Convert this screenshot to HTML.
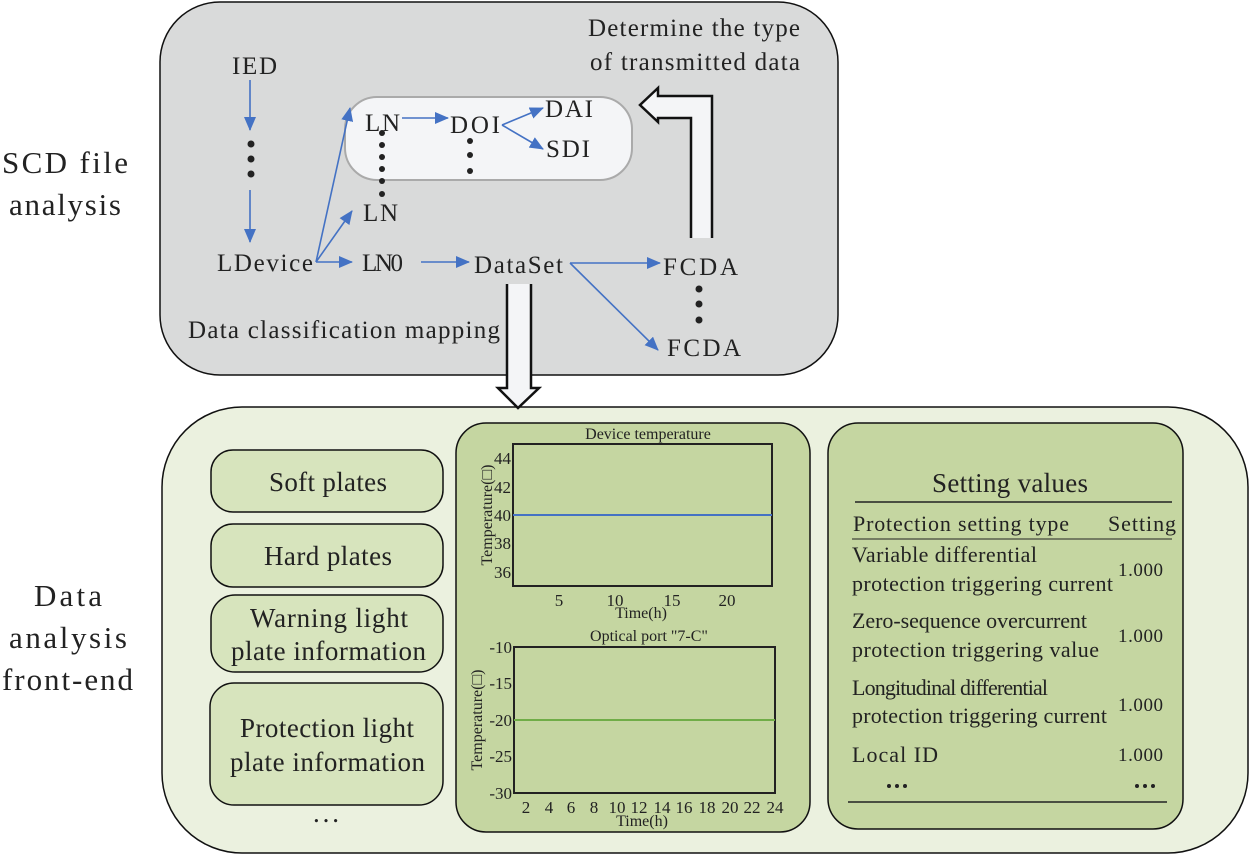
<!DOCTYPE html>
<html><head><meta charset="utf-8"><style>html,body{margin:0;padding:0;background:#fff}svg{display:block}text{font-family:"Liberation Serif","Times New Roman",serif;fill:#222}</style></head><body>
<svg width="1251" height="855" viewBox="0 0 1251 855" xmlns="http://www.w3.org/2000/svg">
<defs><marker id="b" markerWidth="14" markerHeight="12" refX="13" refY="6" orient="auto" markerUnits="userSpaceOnUse"><path d="M0,0 L14,6 L0,12 Z" fill="#4472c4"/></marker></defs>
<!-- left labels -->
<g font-size="31" lengthAdjust="spacingAndGlyphs">
<text x="2" y="173" textLength="126">SCD file</text><text x="9" y="215" textLength="112">analysis</text>
<text x="34" y="606" textLength="68">Data</text><text x="9" y="648" textLength="118">analysis</text><text x="2" y="690" textLength="131">front-end</text></g>
<!-- top box -->
<rect x="160" y="2" width="678" height="373" rx="60" fill="#d9dada" stroke="#111" stroke-width="1.5"/>
<rect x="345" y="97" width="287" height="83" rx="32" fill="#f4f5f7" stroke="#aaa" stroke-width="2"/>
<g font-size="25" lengthAdjust="spacingAndGlyphs">
<text x="588" y="36" textLength="212">Determine the type</text><text x="590" y="70" textLength="210">of transmitted data</text>
<text x="232" y="74" textLength="45">IED</text><text x="365" y="131" textLength="35">LN</text><text x="450" y="133" textLength="50">DOI</text>
<text x="545" y="117" textLength="48">DAI</text><text x="546" y="157" textLength="44">SDI</text><text x="363" y="221" textLength="35">LN</text>
<text x="217" y="271" textLength="96">LDevice</text><text x="362" y="271" textLength="41">LN0</text><text x="474" y="273" textLength="89">DataSet</text>
<text x="663" y="275" textLength="75">FCDA</text><text x="667" y="356" textLength="74">FCDA</text>
<text x="188" y="338" textLength="312">Data classification mapping</text></g>
<g stroke="#4472c4" stroke-width="1.6" fill="none">
<line x1="250" y1="80" x2="250" y2="130" marker-end="url(#b)"/>
<line x1="250" y1="190" x2="250" y2="242" marker-end="url(#b)"/>
<line x1="316" y1="262" x2="350" y2="108" marker-end="url(#b)"/>
<line x1="316" y1="262" x2="352" y2="211" marker-end="url(#b)"/>
<line x1="316" y1="262" x2="352" y2="262" marker-end="url(#b)"/>
<line x1="421" y1="262" x2="469" y2="262" marker-end="url(#b)"/>
<line x1="402" y1="118" x2="448" y2="118" marker-end="url(#b)"/>
<line x1="502" y1="125" x2="543" y2="108" marker-end="url(#b)"/>
<line x1="502" y1="125" x2="543" y2="149" marker-end="url(#b)"/>
<line x1="570" y1="263" x2="660" y2="263" marker-end="url(#b)"/>
<line x1="570" y1="263" x2="658" y2="350" marker-end="url(#b)"/>
</g>
<g fill="#222">
<circle cx="251" cy="144" r="3.5"/><circle cx="251" cy="159" r="3.5"/><circle cx="251" cy="174" r="3.5"/>
<circle cx="382" cy="133" r="3"/><circle cx="382" cy="145" r="3"/><circle cx="382" cy="157" r="3"/><circle cx="382" cy="169" r="3"/><circle cx="382" cy="181" r="3"/><circle cx="382" cy="194" r="3"/>
<circle cx="470" cy="141" r="3"/><circle cx="470" cy="155" r="3"/><circle cx="470" cy="171" r="3"/>
<circle cx="699" cy="289" r="3.5"/><circle cx="699" cy="304" r="3.5"/><circle cx="699" cy="320" r="3.5"/>
</g>
<path d="M691,238 L691,118 L658,118 L658,122 L640,105 L658,88 L658,96 L712,96 L712,238" fill="#f4f5f7" stroke="#111" stroke-width="2.5"/>
<!-- bottom box -->
<rect x="162" y="407" width="1086" height="446" rx="80" fill="#ebf1df" stroke="#111" stroke-width="1.5"/>
<path d="M507,284 L507,388 L498,388 L518,408 L539,388 L531,388 L531,284" fill="#f4f5f7" stroke="#111" stroke-width="2.5"/>
<g fill="#d7e4bd" stroke="#111" stroke-width="1.5">
<rect x="211" y="450" width="232" height="62" rx="22"/>
<rect x="211" y="524" width="232" height="63" rx="22"/>
<rect x="211" y="595" width="232" height="77" rx="24"/>
<rect x="210" y="683" width="233" height="122" rx="24"/>
<rect x="456" y="423" width="354" height="409" rx="30" fill="#c5d6a1"/>
<rect x="828" y="423" width="355" height="406" rx="30" fill="#c5d6a1"/>
</g>
<g font-size="27" lengthAdjust="spacingAndGlyphs">
<text x="269" y="491" textLength="118">Soft plates</text><text x="264" y="565" textLength="128">Hard plates</text>
<text x="250" y="627" textLength="158">Warning light</text><text x="231" y="660" textLength="195">plate information</text>
<text x="240" y="737" textLength="174">Protection light</text><text x="230" y="771" textLength="195">plate information</text>
<text x="313" y="822" textLength="26">...</text></g>
<!-- charts -->
<g font-size="16" text-anchor="middle">
<text x="648" y="439">Device temperature</text>
<text x="641" y="618">Time(h)</text>
<text x="649" y="641">Optical port "7-C"</text>
<text x="642" y="826">Time(h)</text>
<text transform="translate(492,515) rotate(-90)">Temperature(□)</text>
<text transform="translate(482,720) rotate(-90)">Temperature(□)</text>
</g>
<rect x="513" y="444" width="259" height="142" fill="none" stroke="#222" stroke-width="2"/>
<line x1="513" y1="515" x2="772" y2="515" stroke="#4472c4" stroke-width="2"/>
<g font-size="17" text-anchor="end"><text x="511" y="464">44</text><text x="511" y="493">42</text><text x="511" y="521">40</text><text x="511" y="549">38</text><text x="511" y="578">36</text></g>
<g font-size="17" text-anchor="middle"><text x="559" y="606">5</text><text x="615" y="606">10</text><text x="672" y="606">15</text><text x="727" y="606">20</text></g>
<rect x="514" y="647" width="261" height="146" fill="none" stroke="#222" stroke-width="2"/>
<line x1="514" y1="720" x2="775" y2="720" stroke="#70ad47" stroke-width="2"/>
<g font-size="17" text-anchor="end"><text x="512" y="653">-10</text><text x="512" y="689">-15</text><text x="512" y="726">-20</text><text x="512" y="762">-25</text><text x="512" y="799">-30</text></g>
<g font-size="17" text-anchor="middle"><text x="526" y="813">2</text><text x="549" y="813">4</text><text x="571" y="813">6</text><text x="594" y="813">8</text><text x="617" y="813">10</text><text x="639" y="813">12</text><text x="662" y="813">14</text><text x="684" y="813">16</text><text x="707" y="813">18</text><text x="730" y="813">20</text><text x="752" y="813">22</text><text x="775" y="813">24</text></g>
<!-- table -->
<g lengthAdjust="spacingAndGlyphs">
<text x="932" y="492" font-size="27" textLength="156">Setting values</text>
<text x="853" y="531" font-size="22" textLength="216">Protection setting type</text>
<text x="1108" y="531" font-size="22" textLength="68">Setting</text>
<g font-size="22">
<text x="852" y="562" textLength="185">Variable differential</text><text x="852" y="591" textLength="261">protection triggering current</text>
<text x="852" y="628" textLength="235">Zero-sequence overcurrent</text><text x="852" y="657" textLength="247">protection triggering value</text>
<text x="852" y="695" textLength="196">Longitudinal differential</text><text x="852" y="723" textLength="255">protection triggering current</text>
<text x="852" y="762" textLength="86">Local ID</text></g>
<g font-size="19"><text x="1118" y="576" textLength="45">1.000</text><text x="1118" y="642" textLength="45">1.000</text><text x="1118" y="711" textLength="45">1.000</text><text x="1118" y="761" textLength="45">1.000</text></g>
</g>
<g fill="#222"><circle cx="889" cy="786" r="2"/><circle cx="897" cy="786" r="2"/><circle cx="905" cy="786" r="2"/>
<circle cx="1137" cy="786" r="2"/><circle cx="1145" cy="786" r="2"/><circle cx="1153" cy="786" r="2"/></g>
<line x1="855" y1="502" x2="1172" y2="502" stroke="#222" stroke-width="1.5"/>
<line x1="852" y1="539" x2="1172" y2="539" stroke="#222" stroke-width="1"/>
<line x1="848" y1="802" x2="1167" y2="802" stroke="#222" stroke-width="1.5"/>
</svg>
</body></html>
